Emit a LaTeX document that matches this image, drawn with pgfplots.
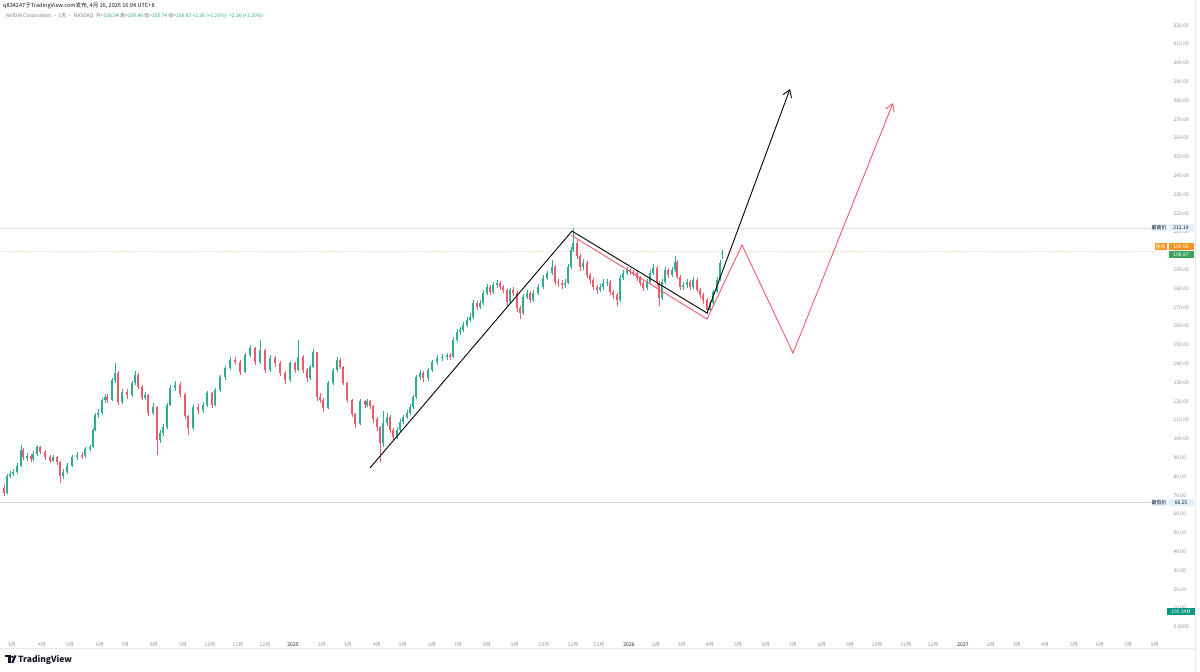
\documentclass[border=0pt]{standalone}
\usepackage{pgfplots}
\pgfplotsset{compat=1.18}
\usepackage{pgfplotstable}
\usepackage{fontspec}
\setmainfont{Noto Sans CJK SC}
\usetikzlibrary{arrows.meta}

\definecolor{upc}{HTML}{2EAD93}
\definecolor{dnc}{HTML}{EE5A6B}
\definecolor{redline}{HTML}{F05A6A}
\definecolor{tickgray}{HTML}{8C8F99}
\definecolor{hline}{HTML}{DCDFE6}
\definecolor{tagblue}{HTML}{E3EEFB}
\definecolor{tagorange}{HTML}{F7941D}
\definecolor{taggreen}{HTML}{3DA35D}
\definecolor{tagteal}{HTML}{089981}
\definecolor{hdgray}{HTML}{787B86}
\definecolor{hdgreen}{HTML}{22AB94}
\definecolor{dark}{HTML}{131722}

% daily candles, x = position on the time scale
\pgfplotstableread{
x o h l c
7 71.3 81.5 70.5 80.3
10 80.3 83 79 81.4
13 81.4 84 80.5 82.4
17 82.4 87 81.5 85.6
21 85.6 97 85 94.1
27 90.4 92.5 88.5 90.9
33 89.4 93.5 88.5 92.0
37 92.0 97 91 95.7
53 88.3 91.5 87.5 90.4
63 80.3 84 78.5 82.4
67 82.4 87 81.5 85.6
72 85.6 91.5 85 90.4
77 90.4 93 89 91.5
85 90.9 96 90 94.7
90 94.7 97 93.5 95.7
93 95.7 106 95 104.8
95 104.8 114 104 112.8
98 112.8 116 111 113.8
102 113.8 122 113 120.7
105 120.7 124 119 122.3
112 120.7 132.5 120 131.4
115 131.4 140.5 130 135.1
122 119.7 126.5 118.5 125.0
132 123.4 131 122.5 129.8
135 129.8 136 128.5 134.0
145 121.8 125 120.5 123.4
153 113.8 119 112.5 117.0
160 99.5 105 98 103.2
163 103.2 108 101.5 106.4
167 106.4 119 105.5 118.1
170 118.1 128.5 117.5 127.1
175 127.1 131 125.5 128.7
193 106.0 118 105 117.0
203 115.4 119.5 114 118.1
207 118.1 125.5 117 124.5
215 118.1 127 117.5 126.1
220 126.1 134 125 132.9
225 132.9 139 131.5 137.8
230 137.8 143.5 136.5 142.0
245 135.6 146 135 144.7
250 144.7 150 143.5 148.4
260 141.0 152.6 140 147.3
270 136.7 144.5 135.5 143.1
290 131.4 141.5 130.5 140.4
298 136.7 152.6 136 143.6
310 132.4 139.5 131.5 138.3
313 138.3 148 137.5 146.3
328 116.5 131 116 129.8
333 129.8 138 128.5 136.7
337 136.7 143.5 135.5 142.0
360 108.0 121.5 107.5 120.0
367 118.0 121.5 117 120.0
383 98.0 115 96 108.5
387 108.5 114 107 111.7
397 101.1 106.5 100 104.8
400 104.8 110.5 103.5 109.0
403 109.0 113 108 111.7
407 111.7 115.5 110.5 113.8
410 113.8 118.5 112.5 117.0
413 117.0 123.5 116 122.3
416 122.3 134 121.5 132.9
420 132.9 136.5 131.5 135.1
428 132.4 138 131 136.7
432 136.7 142 135.5 140.9
437 140.9 144.5 139.5 143.1
442 143.1 145 141.5 143.6
447 143.6 146 142 144.7
453 143.6 154 143 152.6
457 152.6 158.5 151.5 156.9
460 156.9 159.5 155.5 158.0
463 158.0 162 157 160.6
467 160.6 165 159.5 163.3
470 163.3 167 162 164.9
473 164.9 174 164 172.3
480 170.2 174 169 172.3
483 172.3 179 171.5 177.7
487 177.7 182.5 176.5 180.9
493 178.2 183.5 177 181.9
497 181.9 184.5 180.5 183.0
510 172.9 180.5 172 179.3
523 167.0 177 166 175.5
527 175.5 179 174.5 177.7
533 174.0 179 173 177.7
538 177.7 182.5 176.5 180.9
543 180.9 187 180 185.6
547 185.6 189.5 184.5 188.3
552 188.3 195 187 191.5
565 182.0 185 180.5 183.0
568 183.0 193 182.5 191.5
571 191.5 202 190.5 200.5
573 200.5 212.2 199.5 204.3
583 191.5 195.5 190 193.6
600 179.3 182.5 178 180.9
603 180.9 185 179.5 183.0
607 183.0 185 181.5 183.5
620 174.0 187 173 185.6
623 185.6 190 184.5 188.3
627 188.3 191.5 187 189.9
647 180.3 185 179.5 183.5
650 183.5 190 182.5 188.3
653 188.3 193 187 191.0
662 175.0 185 174 183.5
665 183.5 191.5 182.5 189.9
672 187.2 191.5 186 189.9
675 189.9 197.3 189 194.1
683 180.9 183.5 179.5 182.0
687 182.0 185 180.5 183.5
693 180.9 186 180 184.6
710 168.6 173.5 167.5 172.3
713 172.3 179.5 171.5 178.2
717 178.2 186 177.5 184.6
720 184.6 195 184 193.6
722 198.54 200.4 195.74 198.87
}\up

\pgfplotstableread{
x o h l c
4 74 75.5 69.5 71.3
23 94.1 95 89 90.4
31 90.9 92 87.5 89.4
40 95.7 96.5 92 93.1
45 93.1 94 89 90.4
50 90.4 91.5 87 88.3
57 90.4 91 86 87.8
60 87.8 88.5 76.6 80.3
82 91.5 93 89.5 90.9
107 122.3 124 119 120.7
118 135.1 136 118 119.7
127 125.0 126.5 121.5 123.4
138 134.0 135 126.5 127.7
142 127.7 128.5 120.5 121.8
148 123.4 124 112 113.8
157 117.0 117.5 91.5 99.5
180 128.7 130.5 122.5 124.0
185 124.0 124.5 110.5 112.0
188 112.0 113 102 106.0
198 117.0 118.5 113.5 115.4
212 124.5 125 116.5 118.1
235 142.0 143.5 139.5 141.0
240 141.0 142 134 135.6
255 148.4 149 139.5 141.0
265 147.3 148 135 136.7
275 143.1 144 138.5 140.4
280 140.4 141.5 133.5 135.1
285 135.1 136 129.5 131.4
295 140.4 141 135 136.7
303 143.6 144.5 135 136.7
307 136.7 137.5 130.5 132.4
317 146.3 146.5 120 122.3
320 122.3 124.5 119 120.7
323 120.7 122 114.5 116.5
340 142.0 143 137 138.3
343 138.3 139 128.5 129.8
347 129.8 130.5 119 120.7
352 120.7 121.5 111.5 113.3
355 113.3 114 106 108.0
365 120.0 121 116.5 118.0
370 120.0 121 116 117.5
373 117.5 118 108.5 110.6
377 110.6 111.5 104 106.4
380 106.4 107 87.5 98.0
390 111.7 112.5 103 104.8
393 104.8 106 99.5 101.1
423 135.1 136 130.5 132.4
450 144.7 146 142 143.6
477 172.3 173.5 168.5 170.2
490 180.9 182 176.5 178.2
500 183.0 184 179.5 180.9
503 180.9 182 177.5 179.3
507 179.3 180 170.5 172.9
513 179.3 181 176 177.7
517 177.7 178.5 167.5 169.7
520 169.7 171 164 167.0
530 177.7 178.5 172.5 174.0
555 191.5 192.5 182 183.5
558 183.5 185 181 183.0
562 183.0 184.5 180 182.0
577 204.3 206 195.5 197.3
580 197.3 198.5 189.5 191.5
587 193.6 194.5 185.5 187.2
590 187.2 188.5 182.5 184.6
593 184.6 185.5 179 180.9
597 180.9 182 177 179.3
610 183.5 184.5 176.5 178.2
613 178.2 179.5 174.5 176.6
617 176.6 177.5 170.5 174.0
630 189.9 191 187 188.8
633 188.8 190 186.5 188.3
637 188.3 189.5 184 185.6
640 185.6 186.5 181.5 183.0
643 183.0 184 178.5 180.3
657 191.0 192 181.5 183.0
659 183.0 184 171 175.0
668 189.9 191 185.5 187.2
677 194.1 195 185 186.2
680 186.2 187 179.5 180.9
690 183.5 184.5 179.5 180.9
697 184.6 185.5 178 179.3
700 179.3 180.5 175 176.6
703 176.6 177.5 172 174.0
707 174.0 175 166.5 168.6
}\down

\newcommand{\yr}[1]{\textcolor{dark}{#1}}

\begin{document}
\begin{tikzpicture}[x=1pt,y=1pt]
\fill[white] (0,0) rectangle (1200,672);
\useasboundingbox (0,0) rectangle (1200,672);

\begin{axis}[
  at={(0pt,36pt)}, anchor=south west,
  width=1168pt, height=614pt, scale only axis,
  xmin=0, xmax=1168, ymin=-4.79, ymax=321.81,
  clip=false,
  axis line style={draw=none},
  major tick length=0pt,
  yticklabel pos=right,
  ytick={0,10,...,320},
  yticklabels={0.0000,10.00,20.00,30.00,40.00,50.00,60.00,70.00,80.00,90.00,100.00,110.00,120.00,130.00,140.00,150.00,160.00,170.00,180.00,190.00,200.00,210.00,220.00,230.00,240.00,250.00,260.00,270.00,280.00,290.00,300.00,310.00,320.00},
  yticklabel style={font=\fontsize{5}{6}\selectfont, text=tickgray, anchor=west, xshift=2pt},
  xtick={12,42,70,100,125,154,183,210,238,265,293,322,348,377,403,432,458,487,515,544,573,599,629,656,682,710,738,766,793,822,850,877,906,933,963,991,1017,1045,1074,1100,1128,1155},
  xticklabels={3月,4月,5月,6月,7月,8月,9月,10月,11月,12月,\yr{2025},2月,3月,4月,5月,6月,7月,8月,9月,10月,11月,12月,\yr{2026},2月,3月,4月,5月,6月,7月,8月,9月,10月,11月,12月,\yr{2027},2月,3月,4月,5月,6月,7月,8月},
  xticklabel style={font=\fontsize{5}{6}\selectfont, text=tickgray, yshift=-3pt},
  /pgf/number format/assume math mode=true,
]
% reference lines
\addplot[hline, line width=0.6pt, forget plot] coordinates {(0,212.19) (1152,212.19)};
\addplot[hline, line width=0.6pt, forget plot] coordinates {(0,66.25) (1152,66.25)};
\addplot[tagorange!40, line width=0.6pt, dotted, forget plot] coordinates {(0,199.64) (1155,199.64)};

% wicks
\addplot[forget plot, draw=none, mark=none,
  error bars/.cd, y dir=both, y explicit, error mark=none,
  error bar style={draw=upc, line width=0.55pt}]
  table[x=x, y expr={(\thisrow{h}+\thisrow{l})/2}, y error expr={(\thisrow{h}-\thisrow{l})/2}] {\up};
\addplot[forget plot, draw=none, mark=none,
  error bars/.cd, y dir=both, y explicit, error mark=none,
  error bar style={draw=dnc, line width=0.55pt}]
  table[x=x, y expr={(\thisrow{h}+\thisrow{l})/2}, y error expr={(\thisrow{h}-\thisrow{l})/2}] {\down};
% bodies
\addplot[forget plot, draw=none, mark=none,
  error bars/.cd, y dir=both, y explicit, error mark=none,
  error bar style={draw=upc, line width=1.8pt}]
  table[x=x, y expr={(\thisrow{o}+\thisrow{c})/2}, y error expr={abs(\thisrow{c}-\thisrow{o})/2}] {\up};
\addplot[forget plot, draw=none, mark=none,
  error bars/.cd, y dir=both, y explicit, error mark=none,
  error bar style={draw=dnc, line width=1.8pt}]
  table[x=x, y expr={(\thisrow{o}+\thisrow{c})/2}, y error expr={abs(\thisrow{c}-\thisrow{o})/2}] {\down};

% drawn paths
\addplot[black, line width=0.9pt, -{Straight Barb[length=7pt,width=9pt]}] coordinates {(370,84.6) (572,210.6) (707,167.0) (790,286.2)};
\addplot[redline, line width=0.9pt, -{Straight Barb[length=7pt,width=9pt]}] coordinates {(571,208.5) (707,163.8) (742,203.2) (793,145.7) (893,278.7)};
\end{axis}

% separators
\draw[hline!70, line width=0.5pt] (0,24) -- (1195,24);
\draw[hline!70, line width=0.5pt] (1195,0) -- (1195,672);

% price scale tags
\tikzset{tag/.style={inner sep=0pt, minimum height=7pt, font=\fontsize{5}{6}\selectfont}}
\node[tag, fill=tagblue, text=dark, minimum width=15pt] at (1159,444) {最高价};
\node[tag, fill=tagblue, text=dark, minimum width=25pt] at (1181,444) {212.19};
\node[tag, fill=tagorange, text=white, minimum width=12pt] at (1160.5,425) {盘后};
\node[tag, fill=tagorange, text=white, minimum width=25pt] at (1181,425) {199.64};
\node[tag, fill=taggreen, text=white, minimum width=25pt] at (1181,417.5) {198.87};
\node[tag, fill=tagblue, text=dark, minimum width=15pt] at (1159,169.5) {最低价};
\node[tag, fill=tagblue, text=dark, minimum width=25pt] at (1181,169.5) {66.25};
\node[tag, fill=tagteal, text=white, minimum width=28pt] at (1181,60) {195.34M};

% header
\node[anchor=west, inner sep=0pt, font=\fontsize{5.6}{6}\selectfont, text=dark] at (3,666.5) {q834247于TradingView.com发布, 4月 16, 2026 16:04 UTC+8};
\node[anchor=west, inner sep=0pt, font=\fontsize{5}{6}\selectfont, text=hdgray] at (6,656) {NVIDIA Corporation · 1天 · NASDAQ\enspace 开=\textcolor{hdgreen}{198.54} 高=\textcolor{hdgreen}{200.40} 低=\textcolor{hdgreen}{195.74} 收=\textcolor{hdgreen}{198.87} \textcolor{hdgreen}{+2.36 (+1.20\%)}\enspace\textcolor{hdgreen}{+2.36 (+1.20\%)}};

% logo
\fill[dark] (5,14.5) rectangle (11,16.5);
\fill[dark] (8,9) rectangle (10.5,16.5);
\fill[dark] (12.2,15.2) circle (1.3pt);
\fill[dark] (13.5,9) -- (16.5,16.5) -- (14,16.5) -- (11.2,9) -- cycle;
\node[anchor=west, inner sep=0pt, font=\fontsize{8.5}{9}\selectfont\bfseries, text=dark] at (18,12.5) {TradingView};
\end{tikzpicture}
\end{document}
